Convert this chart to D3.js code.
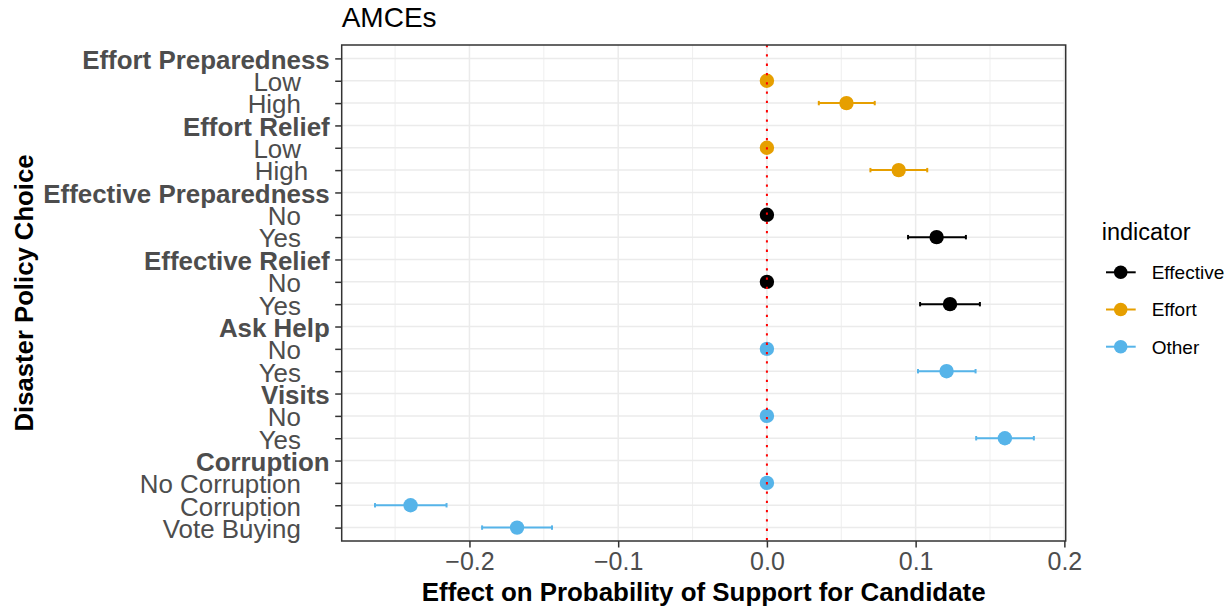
<!DOCTYPE html>
<html>
<head>
<meta charset="utf-8">
<script src="https://cdn.jsdelivr.net/npm/d3@7"></script>
<style>
  body { margin: 0; background: #fff; }
  text { font-family: "Liberation Sans", Arial, sans-serif; }
</style>
</head>
<body>
<div id="chart"></div>
<script>
// Row labels, top to bottom (trailing spaces push level labels left, as in the original)
const rowLabels = [
  "Effort Preparedness", "Low    ", "High    ",
  "Effort Relief", "Low    ", "High   ",
  "Effective Preparedness", "No    ", "Yes    ",
  "Effective Relief", "No    ", "Yes    ",
  "Ask Help", "No    ", "Yes    ",
  "Visits", "No    ", "Yes    ",
  "Corruption", "No Corruption    ", "Corruption    ", "Vote Buying    "
];
const isHeader = [
  true, false, false, true, false, false, true, false, false, true, false, false,
  true, false, false, true, false, false, true, false, false, false
];
// AMCE estimates and 95% intervals (null = header row, no point)
const estimates = [
  null, 0, 0.0535, null, 0, 0.0886, null, 0, 0.1141, null, 0, 0.1231,
  null, 0, 0.1208, null, 0, 0.1600, null, 0, -0.2396, -0.1680
];
const lower = [
  null, 0, 0.0349, null, 0, 0.0696, null, 0, 0.0949, null, 0, 0.1030,
  null, 0, 0.1016, null, 0, 0.1407, null, 0, -0.2635, -0.1915
];
const upper = [
  null, 0, 0.0725, null, 0, 0.1078, null, 0, 0.1338, null, 0, 0.1432,
  null, 0, 0.1403, null, 0, 0.1795, null, 0, -0.2154, -0.1445
];
const indicator = [
  null, "Effort", "Effort", null, "Effort", "Effort",
  null, "Effective", "Effective", null, "Effective", "Effective",
  null, "Other", "Other", null, "Other", "Other",
  null, "Other", "Other", "Other"
];
const indicatorLevels = ["Effective", "Effort", "Other"];
const indicatorColors = ["#000000", "#E69F00", "#56B4E9"];
const xMajorTicks = [-0.2, -0.1, 0, 0.1, 0.2];
const xMinorTicks = [-0.25, -0.15, -0.05, 0.05, 0.15];
const xDomain = [-0.2859, 0.2009];

function createChart(containerId) {
  const width = 1232;
  const height = 609;
  const panel = { left: 341.7, right: 1065.7, top: 45, bottom: 541 };

  const svg = d3.select(containerId)
    .append("svg")
    .attr("width", width)
    .attr("height", height);

  const x = d3.scaleLinear().domain(xDomain).range([panel.left, panel.right]);
  const y = d3.scalePoint()
    .domain(d3.range(rowLabels.length))
    .range([panel.top, panel.bottom])
    .padding(0.6);
  const color = d3.scaleOrdinal().domain(indicatorLevels).range(indicatorColors);

  const rows = rowLabels.map((label, i) => ({
    i: i, label: label, header: isHeader[i],
    est: estimates[i], lo: lower[i], hi: upper[i], group: indicator[i]
  }));
  const points = rows.filter(d => d.est !== null);

  // grid
  const grid = svg.append("g");
  grid.selectAll(".minor").data(xMinorTicks).enter().append("line")
    .attr("x1", d => x(d)).attr("x2", d => x(d))
    .attr("y1", panel.top).attr("y2", panel.bottom)
    .attr("stroke", "#EBEBEB").attr("stroke-width", 0.8);
  grid.selectAll(".majorx").data(xMajorTicks).enter().append("line")
    .attr("x1", d => x(d)).attr("x2", d => x(d))
    .attr("y1", panel.top).attr("y2", panel.bottom)
    .attr("stroke", "#EBEBEB").attr("stroke-width", 1.5);
  grid.selectAll(".majory").data(rows).enter().append("line")
    .attr("x1", panel.left).attr("x2", panel.right)
    .attr("y1", d => y(d.i)).attr("y2", d => y(d.i))
    .attr("stroke", "#EBEBEB").attr("stroke-width", 1.5);

  // error bars
  const bars = svg.append("g").selectAll("g").data(points).enter().append("g")
    .attr("stroke", d => color(d.group)).attr("stroke-width", 2);
  bars.append("line")
    .attr("x1", d => x(d.lo)).attr("x2", d => x(d.hi))
    .attr("y1", d => y(d.i)).attr("y2", d => y(d.i));
  bars.append("line")
    .attr("x1", d => x(d.lo)).attr("x2", d => x(d.lo))
    .attr("y1", d => y(d.i) - 2.2).attr("y2", d => y(d.i) + 2.2);
  bars.append("line")
    .attr("x1", d => x(d.hi)).attr("x2", d => x(d.hi))
    .attr("y1", d => y(d.i) - 2.2).attr("y2", d => y(d.i) + 2.2);

  // points
  svg.append("g").selectAll("circle").data(points).enter().append("circle")
    .attr("cx", d => x(d.est)).attr("cy", d => y(d.i))
    .attr("r", 7.2).attr("fill", d => color(d.group));

  // red dotted zero line
  svg.append("line")
    .attr("x1", x(0)).attr("x2", x(0))
    .attr("y1", panel.top).attr("y2", panel.bottom)
    .attr("stroke", "#FF0000").attr("stroke-width", 2)
    .attr("stroke-dasharray", "2.3,7");

  // panel border
  svg.append("rect")
    .attr("x", panel.left).attr("y", panel.top)
    .attr("width", panel.right - panel.left).attr("height", panel.bottom - panel.top)
    .attr("fill", "none").attr("stroke", "#333333").attr("stroke-width", 1.5);

  // x axis
  const xAxis = svg.append("g")
    .attr("transform", `translate(0,${panel.bottom})`)
    .call(d3.axisBottom(x).tickValues(xMajorTicks).tickFormat(d3.format(".1f"))
      .tickSize(6.5).tickPadding(4.8));
  xAxis.select(".domain").remove();
  xAxis.selectAll(".tick line").attr("stroke", "#333333").attr("stroke-width", 1.5);
  xAxis.selectAll(".tick text")
    .attr("fill", "#4D4D4D").style("font-size", "25px")
    .style("font-family", "'Liberation Sans', Arial, sans-serif");

  // y axis
  const yAxis = svg.append("g")
    .attr("transform", `translate(${panel.left},0)`)
    .call(d3.axisLeft(y).tickFormat(i => rowLabels[i]).tickSize(6.5).tickPadding(5.5));
  yAxis.select(".domain").remove();
  yAxis.selectAll(".tick line").attr("stroke", "#333333").attr("stroke-width", 1.5);
  yAxis.selectAll(".tick text")
    .attr("fill", "#4D4D4D").attr("dy", "0.38em")
    .style("font-size", "25.9px")
    .style("white-space", "pre")
    .style("font-family", "'Liberation Sans', Arial, sans-serif")
    .style("font-weight", i => isHeader[i] ? "bold" : "normal");

  // titles
  svg.append("text")
    .attr("x", panel.left).attr("y", 27)
    .style("font-size", "28px").attr("fill", "#000")
    .text("AMCEs");

  svg.append("text")
    .attr("x", (panel.left + panel.right) / 2).attr("y", 600.5)
    .attr("text-anchor", "middle")
    .style("font-size", "25.9px").style("font-weight", "bold")
    .text("Effect on Probability of Support for Candidate");

  svg.append("text")
    .attr("transform", `translate(33,${(panel.top + panel.bottom) / 2}) rotate(-90)`)
    .attr("text-anchor", "middle")
    .style("font-size", "25.7px").style("font-weight", "bold")
    .text("Disaster Policy Choice");

  // legend
  const legend = svg.append("g").attr("transform", "translate(1101.7,0)");
  legend.append("text")
    .attr("x", 0).attr("y", 240)
    .style("font-size", "23.5px")
    .text("indicator");

  const keys = legend.selectAll(".key").data(indicatorLevels).enter().append("g")
    .attr("transform", (d, i) => `translate(0,${272.3 + i * 37.2})`);
  keys.append("line")
    .attr("x1", 4.3).attr("x2", 34)
    .attr("stroke", d => color(d)).attr("stroke-width", 2);
  keys.append("circle")
    .attr("cx", 19).attr("r", 6.8).attr("fill", d => color(d));
  keys.append("text")
    .attr("x", 50).attr("y", 6.8)
    .style("font-size", "19px")
    .text(d => d);
}

createChart("#chart");
</script>
</body>
</html>
